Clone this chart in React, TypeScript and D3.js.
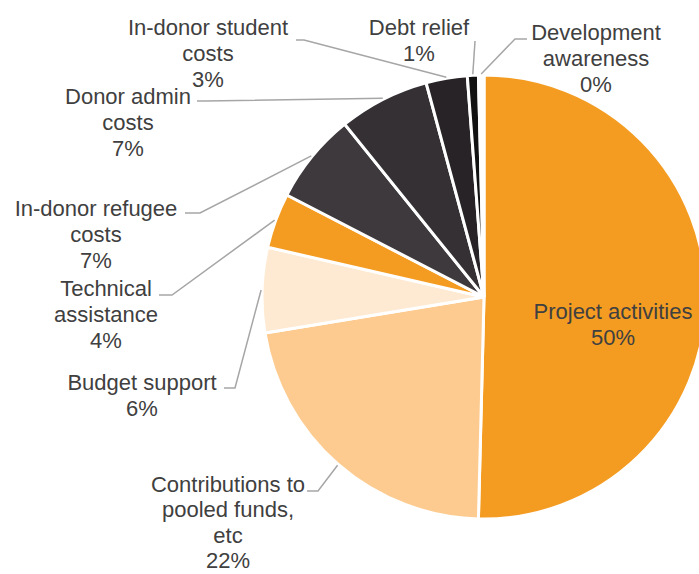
import React from "react";
import * as d3 from "d3";

// ---- data ----
const categories = [
  "Project activities",
  "Contributions to pooled funds, etc",
  "Budget support",
  "Technical assistance",
  "In-donor refugee costs",
  "Donor admin costs",
  "In-donor student costs",
  "Debt relief",
  "Development awareness",
];
const values = [50.4, 22.0, 6.2, 4.0, 6.6, 6.6, 3.0, 0.8, 0.4];
const percentLabels = ["50%", "22%", "6%", "4%", "7%", "7%", "3%", "1%", "0%"];
const labelLines = [
  ["Project activities"],
  ["Contributions to", "pooled funds,", "etc"],
  ["Budget support"],
  ["Technical", "assistance"],
  ["In-donor refugee", "costs"],
  ["Donor admin", "costs"],
  ["In-donor student", "costs"],
  ["Debt relief"],
  ["Development", "awareness"],
];
const colors = [
  "#F49C22",
  "#FDCB8F",
  "#FEEAD2",
  "#F49C22",
  "#3D393C",
  "#343034",
  "#272326",
  "#121212",
  "#FFFFFF",
];

// ---- layout (label placement, leader line start/elbow) ----
const W = 699;
const H = 574;
const CX = 484;
const CY = 297;
const R = 222;
const LINE_H = 26;
type Lay = { tx: number; ty: number; lh: number; start: [number, number] | null; elbow: [number, number] | null };
const labelLayout: Lay[] = [
  { tx: 613, ty: 319, lh: LINE_H, start: null, elbow: null },
  { tx: 228, ty: 492, lh: 25.3, start: [307, 491], elbow: [318, 491] },
  { tx: 142, ty: 390, lh: LINE_H, start: [224, 388], elbow: [235, 388] },
  { tx: 106, ty: 296, lh: LINE_H, start: [159, 295], elbow: [172, 295] },
  { tx: 96, ty: 216, lh: LINE_H, start: [185, 213], elbow: [200, 213] },
  { tx: 128, ty: 104, lh: LINE_H, start: [197, 101], elbow: [205, 101] },
  { tx: 208, ty: 35, lh: LINE_H, start: [296, 40], elbow: [304, 40] },
  { tx: 419, ty: 35, lh: LINE_H, start: [475, 41], elbow: null },
  { tx: 596, ty: 40, lh: LINE_H, start: [527, 39], elbow: [515, 39] },
];

export default function App() {
  const pie = d3
    .pie<number>()
    .sort(null)
    .value((d) => d)
    .startAngle(0)
    .endAngle(2 * Math.PI);
  const arcs = pie(values);
  const arc = d3.arc<d3.PieArcDatum<number>>().innerRadius(0).outerRadius(R);

  return (
    <svg
      width={W}
      height={H}
      style={{ position: "absolute", left: 0, top: 0, display: "block", background: "#fff" }}
      fontFamily="'Liberation Sans', Arial, sans-serif"
    >
      <g transform={`translate(${CX},${CY})`}>
        {arcs.map((a, i) => (
          <path key={categories[i]} d={arc(a) || ""} fill={colors[i]} stroke="#fff" strokeWidth={3} />
        ))}
      </g>
      {arcs.map((a, i) => {
        const lay = labelLayout[i];
        if (!lay.start) return null;
        const mid = (a.startAngle + a.endAngle) / 2;
        const ex = CX + (R + 1) * Math.sin(mid);
        const ey = CY - (R + 1) * Math.cos(mid);
        const pts: [number, number][] = [lay.start];
        if (lay.elbow) pts.push(lay.elbow);
        pts.push([ex, ey]);
        return (
          <path
            key={"l" + i}
            d={d3.line()(pts) || ""}
            fill="none"
            stroke="#A6A6A6"
            strokeWidth={1.5}
          />
        );
      })}
      {labelLayout.map((lay, i) => {
        const lines = [...labelLines[i], percentLabels[i]];
        return (
          <text key={"t" + i} textAnchor="middle" fontSize={22} fill="#404040">
            {lines.map((ln, j) => (
              <tspan key={j} x={lay.tx} y={lay.ty + j * lay.lh}>
                {ln}
              </tspan>
            ))}
          </text>
        );
      })}
    </svg>
  );
}
